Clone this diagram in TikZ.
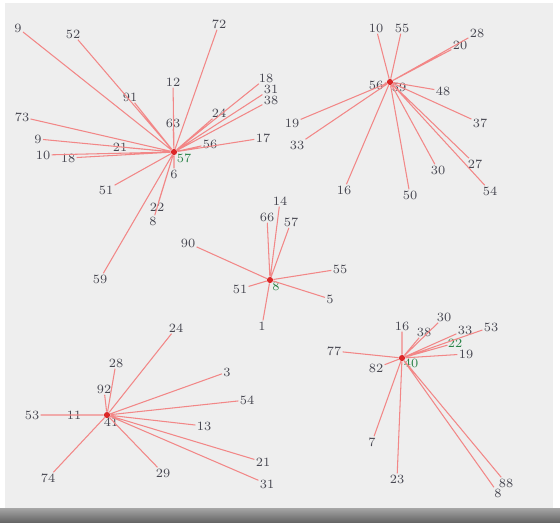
\documentclass[tikz,border=0pt]{standalone}
\usepackage{tikz}
\usetikzlibrary{positioning}

\definecolor{panelgray}{RGB}{238,238,238}
\definecolor{linkred}{RGB}{242,135,135}
\definecolor{hubred}{RGB}{220,40,40}
\definecolor{lblgray}{RGB}{70,70,80}
\definecolor{hubgreen}{RGB}{40,130,70}

\begin{document}
\begin{tikzpicture}[
    x=0.02cm, y=-0.02cm,
    leaf/.style={
        inner sep=0.6pt, text=lblgray, font=\fontsize{7.2}{8}\selectfont
    },
    hub/.style={
        circle, fill=hubred, inner sep=0pt, minimum size=3.5pt
    },
    hublbl/.style={
        inner sep=0pt, text=hubgreen, font=\fontsize{7.2}{8}\selectfont
    },
    link/.style={draw=linkred, line width=0.6pt},
]

% panel and status bar
\useasboundingbox (0,0) rectangle (560,522);
\fill[white] (0,0) rectangle (560,522);
\fill[panelgray] (5,3) rectangle (553,508);
\shade[top color=black!35, bottom color=black!60] (0,508) rectangle (560,522);

% cluster 1 (top-left)
\node[hub] (h1) at (174,152) {};
\node[hublbl] (h1l) at (184,158) {57};
\node[leaf] (a9)   at (18,28)   {9};
\node[leaf] (a52)  at (73,34)   {52};
\node[leaf] (a72)  at (219,24)  {72};
\node[leaf] (a12)  at (173,82)  {12};
\node[leaf] (a91)  at (130,97)  {91};
\node[leaf] (a18)  at (266,78)  {18};
\node[leaf] (a31)  at (271,89)  {31};
\node[leaf] (a38)  at (271,100) {38};
\node[leaf] (a24)  at (219,113) {24};
\node[leaf] (a63)  at (173,123) {63};
\node[leaf] (a73)  at (22,117)  {73};
\node[leaf] (a17)  at (263,138) {17};
\node[leaf] (a56)  at (210,144) {56};
\node[leaf] (a9b)  at (38,139)  {9};
\node[leaf] (a10)  at (43,155)  {10};
\node[leaf] (a18b) at (68,158)  {18};
\node[leaf] (a21)  at (120,147) {21};
\node[leaf] (a51)  at (106,190) {51};
\node[leaf] (a6)   at (174,174) {6};
\node[leaf] (a22)  at (157,207) {22};
\node[leaf] (a8)   at (153,221) {8};
\node[leaf] (a59)  at (100,279) {59};

% cluster 2 (top-right)
\node[hub] (h2) at (390,82) {};
\node[leaf] (h2l) at (399,87) {59};
\node[leaf] (b56)  at (376,85)  {56};
\node[leaf] (b10)  at (376,28)  {10};
\node[leaf] (b55)  at (402,28)  {55};
\node[leaf] (b28)  at (477,33)  {28};
\node[leaf] (b20)  at (460,45)  {20};
\node[leaf] (b48)  at (443,91)  {48};
\node[leaf] (b19)  at (292,123) {19};
\node[leaf] (b33)  at (297,145) {33};
\node[leaf] (b37)  at (480,123) {37};
\node[leaf] (b16)  at (344,190) {16};
\node[leaf] (b50)  at (410,195) {50};
\node[leaf] (b30)  at (438,170) {30};
\node[leaf] (b27)  at (475,164) {27};
\node[leaf] (b54)  at (490,191) {54};

% cluster 3 (centre)
\node[hub] (h3) at (270,280) {};
\node[hublbl] (h3l) at (276,286) {8};
\node[leaf] (c14)  at (280,201) {14};
\node[leaf] (c66)  at (267,217) {66};
\node[leaf] (c57)  at (291,222) {57};
\node[leaf] (c90)  at (188,243) {90};
\node[leaf] (c51)  at (240,289) {51};
\node[leaf] (c55)  at (340,269) {55};
\node[leaf] (c5)   at (330,299) {5};
\node[leaf] (c1)   at (262,326) {1};

% cluster 4 (bottom-left)
\node[hub] (h4) at (107,415) {};
\node[leaf] (h4l) at (111,422) {41};
\node[leaf] (d24)  at (176,328) {24};
\node[leaf] (d28)  at (116,363) {28};
\node[leaf] (d92)  at (104,389) {92};
\node[leaf] (d3)   at (227,372) {3};
\node[leaf] (d54)  at (247,400) {54};
\node[leaf] (d53)  at (32,415)  {53};
\node[leaf] (d11)  at (74,415)  {11};
\node[leaf] (d13)  at (204,426) {13};
\node[leaf] (d21)  at (263,462) {21};
\node[leaf] (d31)  at (267,484) {31};
\node[leaf] (d74)  at (48,478)  {74};
\node[leaf] (d29)  at (163,473) {29};

% cluster 5 (bottom-right)
\node[hub] (h5) at (402,358) {};
\node[hublbl] (h5l) at (411,363) {40};
\node[leaf] (e16)  at (402,326) {16};
\node[leaf] (e38)  at (424,332) {38};
\node[leaf] (e30)  at (444,317) {30};
\node[leaf] (e33)  at (465,330) {33};
\node[hublbl] (e22) at (455,343) {22};
\node[leaf] (e53)  at (491,327) {53};
\node[leaf] (e19)  at (466,354) {19};
\node[leaf] (e77)  at (334,351) {77};
\node[leaf] (e82)  at (376,368) {82};
\node[leaf] (e7)   at (372,442) {7};
\node[leaf] (e23)  at (397,479) {23};
\node[leaf] (e88)  at (506,483) {88};
\node[leaf] (e8)   at (498,493) {8};

% links
\draw[link] (h1) -- (a9)  (h1) -- (a52) (h1) -- (a72) (h1) -- (a12)
            (h1) -- (a91) (h1) -- (a18) (h1) -- (a31) (h1) -- (a38)
            (h1) -- (a24) (h1) -- (a63) (h1) -- (a73) (h1) -- (a17)
            (h1) -- (a56) (h1) -- (a9b) (h1) -- (a10) (h1) -- (a18b)
            (h1) -- (a21) (h1) -- (a51) (h1) -- (a6)  (h1) -- (a22)
            (h1) -- (a8)  (h1) -- (a59);
\draw[link] (h2) -- (b56) (h2) -- (b10) (h2) -- (b55) (h2) -- (b28)
            (h2) -- (b20) (h2) -- (b48) (h2) -- (b19) (h2) -- (b33)
            (h2) -- (b37) (h2) -- (b16) (h2) -- (b50) (h2) -- (b30)
            (h2) -- (b27) (h2) -- (b54);
\draw[link] (h3) -- (c14) (h3) -- (c66) (h3) -- (c57) (h3) -- (c90)
            (h3) -- (c51) (h3) -- (c55) (h3) -- (c5)  (h3) -- (c1);
\draw[link] (h4) -- (d24) (h4) -- (d28) (h4) -- (d92) (h4) -- (d3)
            (h4) -- (d54) (h4) -- (d53) (h4) -- (d11) (h4) -- (d13)
            (h4) -- (d21) (h4) -- (d31) (h4) -- (d74) (h4) -- (d29);
\draw[link] (h5) -- (e16) (h5) -- (e38) (h5) -- (e30) (h5) -- (e33)
            (h5) -- (e22) (h5) -- (e53) (h5) -- (e19) (h5) -- (e77)
            (h5) -- (e82) (h5) -- (e7)  (h5) -- (e23) (h5) -- (e88)
            (h5) -- (e8);

\end{tikzpicture}
\end{document}
